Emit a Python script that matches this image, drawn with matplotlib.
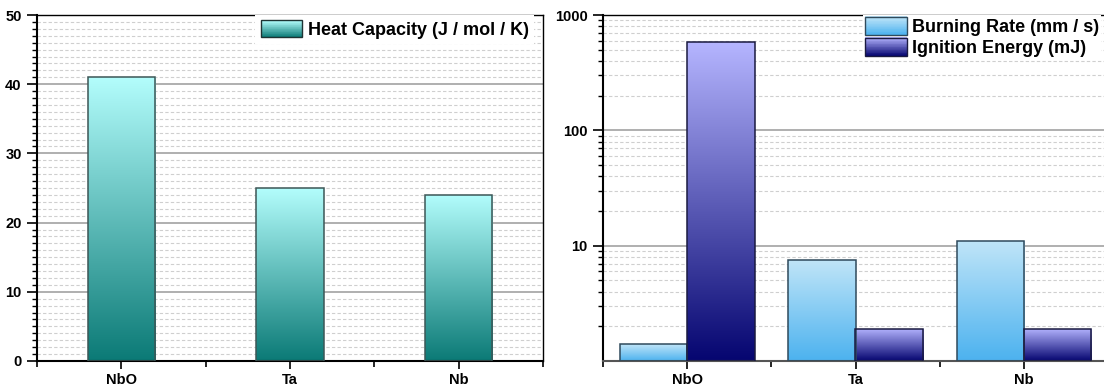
import numpy as np
import matplotlib
matplotlib.use("Agg")
import matplotlib.pyplot as plt
from matplotlib.colors import LinearSegmentedColormap
from matplotlib.patches import Rectangle
from matplotlib.legend_handler import HandlerBase
from matplotlib.ticker import MultipleLocator, FixedLocator, LogLocator, NullFormatter, FixedFormatter

materials = ["NbO", "Ta", "Nb"]
heat_capacity = [41.0, 25.0, 24.0]
burning_rate = [1.4, 7.5, 11.0]
ignition_energy = [580.0, 1.9, 1.9]

plt.rcParams["font.family"] = ["Liberation Sans", "DejaVu Sans"]
plt.rcParams["font.weight"] = "bold"

teal = LinearSegmentedColormap.from_list("teal", ["#0b7a76", "#b3fdfc"])
sky = LinearSegmentedColormap.from_list("sky", ["#4cb2ef", "#c0e5f8"])
navy = LinearSegmentedColormap.from_list("navy", ["#050570", "#b5b5ff"])
grad = np.linspace(0, 1, 256).reshape(-1, 1)


def gradient_bars(ax, xs, values, width, cmap, edge, bottom=0):
    # limits must already be set: the gradient is laid out in axes coordinates
    heights = np.asarray(values) - bottom
    bars = ax.bar(xs, heights, width, bottom=bottom, facecolor="none",
                  edgecolor=edge, linewidth=1.1, zorder=3)
    to_axes = ax.transScale + ax.transLimits
    for b in bars:
        x0, y0 = b.get_x(), b.get_y()
        (ax0, ay0), (ax1_, ay1) = to_axes.transform(
            [(x0, y0), (x0 + b.get_width(), y0 + b.get_height())])
        im = ax.imshow(grad, cmap=cmap, origin="lower", aspect="auto",
                       extent=[ax0, ax1_, ay0, ay1], transform=ax.transAxes,
                       zorder=2, interpolation="bilinear")
        im.set_clip_path(b)
    return bars


class GradientHandler(HandlerBase):
    def __init__(self, cmap, edge):
        super().__init__()
        self.cmap = cmap
        self.edge = edge

    def create_artists(self, legend, orig_handle, xdescent, ydescent,
                       width, height, fontsize, trans):
        n = 24
        arts = []
        for i in range(n):
            r = Rectangle((-xdescent, -ydescent + height * i / n), width, height / n + 0.3,
                          facecolor=self.cmap((i + 0.5) / n), edgecolor="none",
                          transform=trans)
            arts.append(r)
        arts.append(Rectangle((-xdescent, -ydescent), width, height, facecolor="none",
                              edgecolor=self.edge, linewidth=1.0, transform=trans))
        return arts


def style_axes(ax):
    ax.set_axisbelow(True)
    ax.grid(which="major", axis="y", color="#9a9a9a", linewidth=1.1, linestyle="-")
    ax.grid(which="minor", axis="y", color="#cfcfcf", linewidth=0.8, linestyle=(0, (3, 2)))
    ax.set_xticks(range(len(materials)))
    ax.set_xticklabels(materials, fontsize=10.5, fontweight="bold")
    ax.xaxis.set_minor_locator(FixedLocator([-0.5, 0.5, 1.5, 2.5]))
    ax.tick_params(axis="x", which="major", direction="out", length=6, width=1.2, pad=3)
    ax.tick_params(axis="x", which="minor", direction="out", length=4, width=1.2)
    ax.tick_params(axis="y", which="major", direction="out", length=7, width=1.2,
                   labelsize=10.5, pad=4)
    ax.tick_params(axis="y", which="minor", direction="out", length=3.5, width=1.0)
    for lab in ax.get_yticklabels():
        lab.set_fontweight("bold")
    ax.spines["left"].set_linewidth(1.5)
    ax.spines["bottom"].set_linewidth(1.5)
    ax.spines["top"].set_linewidth(1.0)
    ax.spines["right"].set_linewidth(1.0)


def add_legend(ax, labels, handlers, **kw):
    handles = [Rectangle((0, 0), 1, 1) for _ in labels]
    leg = ax.legend(handles, labels, loc="upper right",
                    handler_map=dict(zip(handles, handlers)),
                    prop={"weight": "bold", "size": 13}, frameon=True, fancybox=False,
                    borderaxespad=0, handlelength=2.3, handletextpad=0.3, **kw)
    leg.get_frame().set_edgecolor("none")
    leg.get_frame().set_facecolor("white")
    leg.get_frame().set_alpha(1)
    leg.set_zorder(5)
    return leg


fig = plt.figure(figsize=(11.04, 3.9), dpi=100)
x = np.arange(len(materials))

# heat capacity, linear axis
ax1 = fig.add_axes([37 / 1104, 29 / 390, 506 / 1104, 346 / 390])
ax1.set_xlim(-0.5, 2.5)
ax1.set_ylim(0, 50)
gradient_bars(ax1, x, heat_capacity, 0.4, teal, "#3c5656")
ax1.set_xlim(-0.5, 2.5)
ax1.set_ylim(0, 50)
ax1.yaxis.set_major_locator(MultipleLocator(10))
ax1.yaxis.set_minor_locator(MultipleLocator(1))
style_axes(ax1)
add_legend(ax1, ["Heat Capacity (J / mol / K)"], [GradientHandler(teal, "#1e3333")],
           handleheight=1.05, borderpad=0.3, bbox_to_anchor=(1.0 - 9 / 506, 1.0))

# burning rate and ignition energy, log axis
ax2 = fig.add_axes([603 / 1104, 29 / 390, 505 / 1104, 346 / 390])
ax2.set_yscale("log")
ax2.set_xlim(-0.5, 2.5)
ax2.set_ylim(1, 1000)
gradient_bars(ax2, x - 0.2, burning_rate, 0.4, sky, "#2f4a5c", bottom=1)
gradient_bars(ax2, x + 0.2, ignition_energy, 0.4, navy, "#1a1a40", bottom=1)
ax2.set_xlim(-0.5, 2.5)
ax2.set_ylim(1, 1000)
ax2.yaxis.set_major_locator(FixedLocator([10, 100, 1000]))
ax2.yaxis.set_major_formatter(FixedFormatter(["10", "100", "1000"]))
ax2.yaxis.set_minor_locator(LogLocator(base=10, subs=np.arange(2, 10)))
ax2.yaxis.set_minor_formatter(NullFormatter())
style_axes(ax2)
ax2.spines["bottom"].set_color("#555555")
add_legend(ax2, ["Burning Rate (mm / s)", "Ignition Energy (mJ)"],
           [GradientHandler(sky, "#2f4a5c"), GradientHandler(navy, "#1a1a40")],
           handleheight=1.15, borderpad=0.1, labelspacing=0.1,
           bbox_to_anchor=(1.0 - 7 / 505, 1.0))

fig.savefig("out.png", dpi=100)
